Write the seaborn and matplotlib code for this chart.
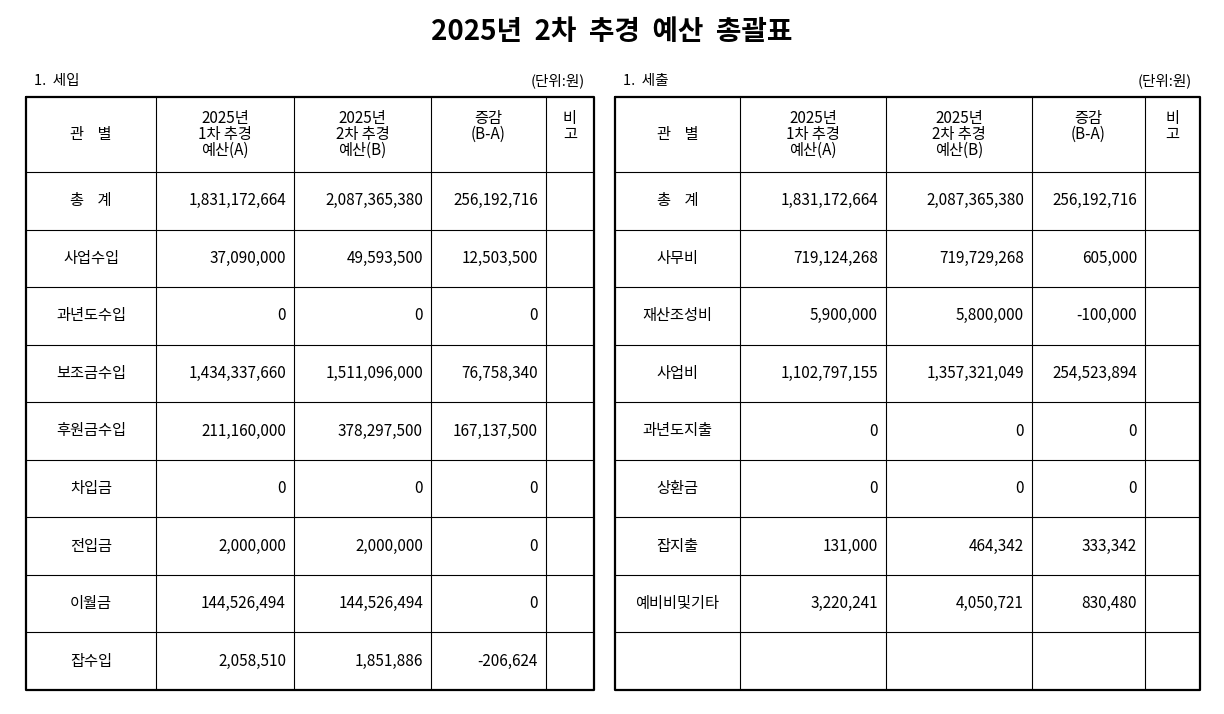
import matplotlib
matplotlib.use("Agg")
import matplotlib.pyplot as plt
from matplotlib import font_manager
import seaborn as sns

sns.set_style("white")
cjk = sorted({f.name for f in font_manager.fontManager.ttflist if "CJK" in f.name},
             key=lambda n: (0 if "KR" in n else 1, n))
plt.rcParams["font.family"] = ["Noto Sans CJK KR"] + cjk + ["DejaVu Sans"]
plt.rcParams["text.color"] = "black"

title = "2025년  2차  추경  예산  총괄표"
headers = ["관    별", "2025년\n1차 추경\n예산(A)", "2025년\n2차 추경\n예산(B)", "증감\n(B-A)", "비\n고"]

in_cats = ["총    계", "사업수입", "과년도수입", "보조금수입", "후원금수입", "차입금", "전입금", "이월금", "잡수입"]
in_a = ["1,831,172,664", "37,090,000", "0", "1,434,337,660", "211,160,000", "0", "2,000,000", "144,526,494", "2,058,510"]
in_b = ["2,087,365,380", "49,593,500", "0", "1,511,096,000", "378,297,500", "0", "2,000,000", "144,526,494", "1,851,886"]
in_d = ["256,192,716", "12,503,500", "0", "76,758,340", "167,137,500", "0", "0", "0", "-206,624"]

out_cats = ["총    계", "사무비", "재산조성비", "사업비", "과년도지출", "상환금", "잡지출", "예비비및기타", ""]
out_a = ["1,831,172,664", "719,124,268", "5,900,000", "1,102,797,155", "0", "0", "131,000", "3,220,241", ""]
out_b = ["2,087,365,380", "719,729,268", "5,800,000", "1,357,321,049", "0", "0", "464,342", "4,050,721", ""]
out_d = ["256,192,716", "605,000", "-100,000", "254,523,894", "0", "0", "333,342", "830,480", ""]

W, H = 1224, 714
fig = plt.figure(figsize=(W / 100, H / 100), dpi=100)
ax = fig.add_axes([0, 0, 1, 1])
ax.set_xlim(0, W)
ax.set_ylim(H, 0)
ax.axis("off")

ax.text(W / 2, 32, title, ha="center", va="center", fontsize=20, fontweight="bold")

def draw_table(xs, label, unit_x, cats, a, b, d):
    top, hdr, bot = 97, 172, 690
    n = len(cats)
    rh = (bot - hdr) / n
    ax.text(xs[0] + 8, 81, label, ha="left", va="center", fontsize=10.5)
    ax.text(unit_x, 81, "(단위:원)", ha="right", va="center", fontsize=10.5)
    ax.plot([xs[0], xs[-1], xs[-1], xs[0], xs[0]], [top, top, bot, bot, top], color="black", lw=1.6)
    for x in xs[1:-1]:
        ax.plot([x, x], [top, bot], color="black", lw=0.8)
    for i in range(n):
        y = hdr + i * rh
        ax.plot([xs[0], xs[-1]], [y, y], color="black", lw=0.8)
    for j, h in enumerate(headers):
        cx = (xs[j] + xs[j + 1]) / 2
        cy = (top + hdr) / 2 - (8 if j == 3 or j == 4 else 0)
        ax.text(cx, cy, h, ha="center", va="center", fontsize=11, linespacing=0.9)
    for i in range(n):
        cy = hdr + (i + 0.5) * rh
        ax.text((xs[0] + xs[1]) / 2, cy, cats[i], ha="center", va="center", fontsize=11)
        for j, col in enumerate([a, b, d]):
            ax.text(xs[j + 2] - 8, cy, col[i], ha="right", va="center", fontsize=11)

draw_table([26, 156, 294, 431, 546, 594], "1.  세입", 585, in_cats, in_a, in_b, in_d)
draw_table([615, 740, 886, 1032, 1145, 1200], "1.  세출", 1192, out_cats, out_a, out_b, out_d)

fig.savefig("out.png", dpi=100)
